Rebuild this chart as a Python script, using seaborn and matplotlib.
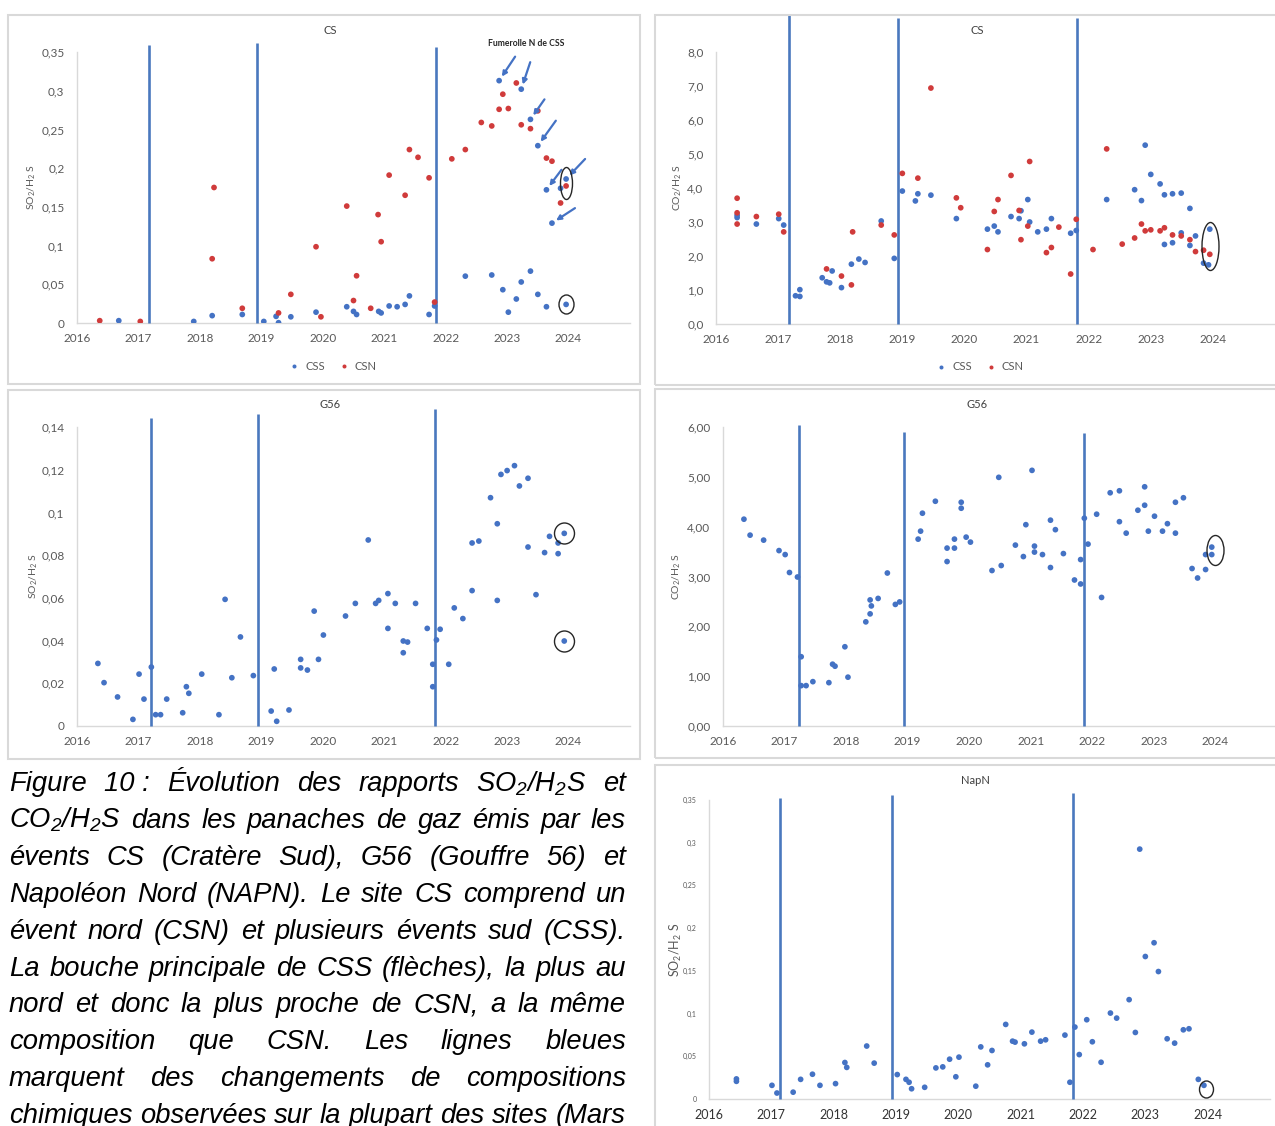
#!/usr/bin/env python3
"""
Figure 10: SO2/H2S and CO2/H2S ratios in the gas plumes of CS, G56 and NapN.

Five small Excel-style scatter panels + the justified French caption.
"""
import matplotlib

matplotlib.use("Agg")
import matplotlib.pyplot as plt
import pandas as pd
import seaborn as sns
from matplotlib import font_manager
from matplotlib.markers import MarkerStyle
from matplotlib.patches import Rectangle
from matplotlib.path import Path
from matplotlib.ticker import FixedLocator, FuncFormatter, MultipleLocator
from matplotlib.transforms import Affine2D

W, H = 1275, 1126
BLUE = "#4472C4"
RED = "#D03B3B"
LINE_BLUE = "#4A78BE"
FRAME_GREY = "#D9D9D9"
TEXT_GREY = "#595959"

YEARS = [2016, 2017, 2018, 2019, 2020, 2021, 2022, 2023, 2024]

# dates of the composition changes (blue vertical lines) and how high each was drawn
CS_SO2_CHANGE_X = [2017.17, 2018.93, 2021.84]
CS_SO2_CHANGE_TOP = [0.359, 0.362, 0.357]
CS_CO2_CHANGE_X = [2017.17, 2018.93, 2021.82]
CS_CO2_CHANGE_TOP = [9.1, 9.0, 9.0]
G56_SO2_CHANGE_X = [2017.20, 2018.94, 2021.83]
G56_SO2_CHANGE_TOP = [0.1444, 0.1462, 0.1486]
G56_CO2_CHANGE_X = [2017.23, 2018.94, 2021.87]
G56_CO2_CHANGE_TOP = [6.04, 5.89, 5.87]
NAPN_CHANGE_X = [2017.14, 2018.93, 2021.84]
NAPN_CHANGE_TOP = [0.352, 0.356, 0.358]

# CS - SO2/H2S, south vents (CSS)
CSS_SO2_YEAR = [2016.68, 2017.90, 2018.20, 2018.69, 2019.04, 2019.24, 2019.28, 2019.48,
                2019.89, 2020.39, 2020.50, 2020.55, 2020.91, 2020.95, 2021.08, 2021.21,
                2021.34, 2021.41, 2021.73, 2021.82, 2022.32, 2022.75, 2022.93, 2023.02,
                2023.15, 2023.23, 2023.38, 2023.50, 2023.64, 2023.96]
CSS_SO2 = [0.003, 0.002, 0.0095, 0.011, 0.002, 0.0086, 0.0004, 0.008,
           0.014, 0.021, 0.015, 0.011, 0.015, 0.013, 0.022, 0.021,
           0.024, 0.035, 0.011, 0.022, 0.0605, 0.062, 0.043, 0.014,
           0.031, 0.053, 0.067, 0.037, 0.021, 0.024]
# CS - SO2/H2S, main mouth of CSS (the arrowed points)
CSS_MAIN_YEAR = [2022.87, 2023.23, 2023.38, 2023.50, 2023.64, 2023.87, 2023.96, 2023.73]
CSS_MAIN_SO2 = [0.313, 0.302, 0.263, 0.229, 0.172, 0.174, 0.186, 0.129]
# CS - SO2/H2S, north vent (CSN)
CSN_SO2_YEAR = [2016.37, 2017.03, 2018.20, 2018.23, 2018.69, 2019.28, 2019.48, 2019.89,
                2019.97, 2020.39, 2020.50, 2020.55, 2020.78, 2020.90, 2020.95, 2021.08,
                2021.34, 2021.41, 2021.55, 2021.73, 2021.82, 2022.10, 2022.32, 2022.58,
                2022.75, 2022.87, 2022.93, 2023.02, 2023.15, 2023.23, 2023.38, 2023.50,
                2023.64, 2023.73, 2023.87, 2023.96]
CSN_SO2 = [0.003, 0.002, 0.083, 0.175, 0.019, 0.013, 0.037, 0.0985,
           0.008, 0.151, 0.029, 0.061, 0.019, 0.140, 0.105, 0.191,
           0.165, 0.224, 0.214, 0.1875, 0.027, 0.212, 0.224, 0.259,
           0.2545, 0.276, 0.2955, 0.277, 0.310, 0.256, 0.251, 0.274,
           0.213, 0.209, 0.155, 0.177]
# tail offsets of the arrows (px, right/up) for each main-mouth point, None = no arrow
CSS_MAIN_ARROW = [(16, 24), (9, 27), (14, 20), (18, 25), (15, 20), None, (19, 20), (23, 15)]

# CS - CO2/H2S
CSS_CO2_YEAR = [2016.34, 2016.34, 2016.65, 2017.01, 2017.09, 2017.28, 2017.35, 2017.35,
                2017.71, 2017.78, 2017.83, 2017.87, 2018.02, 2018.18, 2018.30, 2018.40,
                2018.66, 2018.87, 2019.00, 2019.21, 2019.25, 2019.46, 2019.87, 2020.37,
                2020.48, 2020.54, 2020.75, 2020.88, 2020.91, 2021.02, 2021.05, 2021.18,
                2021.32, 2021.40, 2021.71, 2021.80, 2022.29, 2022.74, 2022.85, 2022.91,
                2023.00, 2023.15, 2023.22, 2023.22, 2023.35, 2023.35, 2023.49, 2023.49,
                2023.63, 2023.63, 2023.72, 2023.85, 2023.93, 2023.95]
CSS_CO2 = [3.20, 3.13, 2.94, 3.10, 2.91, 0.83, 1.01, 0.81,
           1.36, 1.24, 1.21, 1.56, 1.07, 1.76, 1.91, 1.81,
           3.03, 1.93, 3.91, 3.62, 3.83, 3.79, 3.10, 2.79,
           2.88, 2.71, 3.16, 3.10, 3.33, 3.66, 3.00, 2.71,
           2.79, 3.10, 2.67, 2.75, 3.66, 3.95, 3.63, 5.26,
           4.40, 4.12, 3.80, 2.34, 3.83, 2.39, 3.85, 2.68,
           3.40, 2.31, 2.59, 1.79, 1.74, 2.79]
CSN_CO2_YEAR = [2016.34, 2016.34, 2016.34, 2016.65, 2017.01, 2017.09, 2017.78, 2018.02,
                2018.18, 2018.20, 2018.66, 2018.87, 2019.00, 2019.25, 2019.46, 2019.87,
                2019.94, 2020.37, 2020.48, 2020.54, 2020.75, 2020.88, 2020.91, 2021.02,
                2021.05, 2021.32, 2021.40, 2021.52, 2021.71, 2021.80, 2022.07, 2022.29,
                2022.54, 2022.74, 2022.85, 2022.91, 2023.00, 2023.15, 2023.22, 2023.35,
                2023.49, 2023.63, 2023.72, 2023.85, 2023.95]
CSN_CO2 = [3.70, 3.27, 2.94, 3.16, 3.23, 2.71, 1.62, 1.41,
           1.15, 2.71, 2.91, 2.62, 4.43, 4.29, 6.94, 3.71,
           3.42, 2.19, 3.31, 3.66, 4.37, 3.34, 2.48, 2.88,
           4.78, 2.10, 2.25, 2.85, 1.47, 3.08, 2.19, 5.15,
           2.35, 2.53, 2.94, 2.74, 2.77, 2.74, 2.83, 2.62,
           2.59, 2.48, 2.13, 2.17, 2.05]

# G56 - SO2/H2S
G56_SO2_YEAR = [2016.34, 2016.44, 2016.66, 2016.91, 2017.01, 2017.09, 2017.21, 2017.28,
                2017.36, 2017.46, 2017.72, 2017.78, 2017.82, 2018.03, 2018.31, 2018.41,
                2018.52, 2018.66, 2018.87, 2019.16, 2019.21, 2019.25, 2019.45, 2019.64,
                2019.64, 2019.75, 2019.86, 2019.93, 2020.01, 2020.37, 2020.53, 2020.74,
                2020.86, 2020.91, 2021.06, 2021.06, 2021.18, 2021.31, 2021.31, 2021.38,
                2021.51, 2021.70, 2021.79, 2021.79, 2021.85, 2021.91, 2022.05, 2022.14,
                2022.28, 2022.43, 2022.43, 2022.54, 2022.73, 2022.84, 2022.84, 2022.90,
                2023.00, 2023.12, 2023.20, 2023.34, 2023.34, 2023.47, 2023.61, 2023.69,
                2023.83, 2023.83, 2023.93, 2023.93]
G56_SO2 = [0.0293, 0.0203, 0.0136, 0.0031, 0.0243, 0.0126, 0.0276, 0.0053,
           0.0053, 0.0126, 0.0062, 0.0184, 0.0153, 0.0243, 0.0053, 0.0593,
           0.0226, 0.0417, 0.0236, 0.0070, 0.0267, 0.0022, 0.0075, 0.0312,
           0.0272, 0.0262, 0.0538, 0.0312, 0.0426, 0.0515, 0.0574, 0.0871,
           0.0574, 0.0588, 0.0620, 0.0457, 0.0574, 0.0398, 0.0343, 0.0393,
           0.0574, 0.0457, 0.0289, 0.0184, 0.0403, 0.0453, 0.0289, 0.0553,
           0.0503, 0.0857, 0.0634, 0.0866, 0.1069, 0.0947, 0.0588, 0.1178,
           0.1196, 0.1219, 0.1124, 0.1160, 0.0838, 0.0615, 0.0812, 0.0888,
           0.0857, 0.0807, 0.0902, 0.0398]

# G56 - CO2/H2S
G56_CO2_YEAR = [2016.34, 2016.44, 2016.66, 2016.91, 2017.01, 2017.08, 2017.21, 2017.27,
                2017.27, 2017.35, 2017.46, 2017.72, 2017.78, 2017.82, 2017.98, 2018.03,
                2018.32, 2018.39, 2018.41, 2018.39, 2018.52, 2018.67, 2018.80, 2018.87,
                2019.17, 2019.21, 2019.24, 2019.45, 2019.64, 2019.64, 2019.76, 2019.76,
                2019.87, 2019.87, 2019.95, 2020.02, 2020.37, 2020.48, 2020.52, 2020.75,
                2020.88, 2020.92, 2021.02, 2021.06, 2021.06, 2021.19, 2021.32, 2021.32,
                2021.40, 2021.53, 2021.71, 2021.81, 2021.81, 2021.87, 2021.93, 2022.07,
                2022.15, 2022.29, 2022.44, 2022.44, 2022.55, 2022.74, 2022.85, 2022.85,
                2022.91, 2023.01, 2023.14, 2023.22, 2023.35, 2023.35, 2023.48, 2023.62,
                2023.71, 2023.84, 2023.84, 2023.94, 2023.94]
G56_CO2 = [4.15, 3.83, 3.73, 3.52, 3.44, 3.08, 2.99, 1.39,
           0.81, 0.81, 0.89, 0.87, 1.24, 1.20, 1.59, 0.98,
           2.09, 2.25, 2.41, 2.53, 2.56, 3.07, 2.44, 2.49,
           3.75, 3.91, 4.27, 4.51, 3.57, 3.30, 3.75, 3.57,
           4.49, 4.37, 3.79, 3.69, 3.12, 4.99, 3.22, 3.63,
           3.40, 4.04, 5.13, 3.61, 3.49, 3.44, 4.13, 3.18,
           3.94, 3.46, 2.93, 3.34, 2.85, 4.17, 3.65, 4.25,
           2.58, 4.68, 4.72, 4.10, 3.87, 4.33, 4.80, 4.43,
           3.91, 4.21, 3.91, 4.06, 4.49, 3.87, 4.58, 3.16,
           2.97, 3.44, 3.14, 3.59, 3.44]

# NapN - SO2/H2S
NAPN_YEAR = [2016.44, 2016.44, 2017.01, 2017.09, 2017.35, 2017.47, 2017.66, 2017.78,
             2018.03, 2018.18, 2018.21, 2018.53, 2018.65, 2019.02, 2019.16, 2019.21,
             2019.25, 2019.46, 2019.64, 2019.75, 2019.86, 2019.96, 2020.01, 2020.28,
             2020.36, 2020.47, 2020.54, 2020.76, 2020.87, 2020.91, 2021.06, 2021.18,
             2021.32, 2021.40, 2021.71, 2021.79, 2021.87, 2021.94, 2022.06, 2022.15,
             2022.29, 2022.44, 2022.54, 2022.74, 2022.84, 2022.91, 2023.00, 2023.14,
             2023.21, 2023.35, 2023.47, 2023.61, 2023.70, 2023.85, 2023.94]
NAPN_SO2 = [0.0235, 0.0207, 0.016, 0.007, 0.008, 0.023, 0.029, 0.016,
            0.018, 0.0427, 0.037, 0.062, 0.042, 0.0286, 0.023, 0.0196,
            0.012, 0.0137, 0.0364, 0.0376, 0.0466, 0.026, 0.049, 0.015,
            0.061, 0.040, 0.0568, 0.0873, 0.0677, 0.0666, 0.0646, 0.0783,
            0.0677, 0.0693, 0.0748, 0.0196, 0.0842, 0.052, 0.0928, 0.067,
            0.043, 0.1006, 0.0947, 0.1163, 0.0779, 0.2925, 0.1668, 0.1829,
            0.1492, 0.0705, 0.0654, 0.081, 0.0822, 0.023, 0.016]

# hand-drawn rings around the latest samples: centre (year, value), size in px
CS_SO2_RINGS = [(2023.96, 0.181, 12, 32), (2023.96, 0.024, 15, 19)]
CS_CO2_RINGS = [(2023.95, 2.28, 17, 48)]
G56_SO2_RINGS = [(2023.93, 0.0905, 20, 21), (2023.93, 0.0400, 20, 21)]
G56_CO2_RINGS = [(2024.0, 3.54, 17, 30)]
NAPN_RINGS = [(2023.97, 0.012, 14, 17)]

CAPTION_LINES = [
    "Figure 10\u00a0: Évolution des rapports SO$_2$/H$_2$S et",
    "CO$_2$/H$_2$S dans les panaches de gaz émis par les",
    "évents CS (Cratère Sud), G56 (Gouffre 56) et",
    "Napoléon Nord (NAPN). Le site CS comprend un",
    "évent nord (CSN) et plusieurs évents sud (CSS).",
    "La bouche principale de CSS (flèches), la plus au",
    "nord et donc la plus proche de CSN, a la même",
    "composition que CSN. Les lignes bleues",
    "marquent des changements de compositions",
    "chimiques observées sur la plupart des sites (Mars",
]


def px_box(left, top, right, bottom):
    return [left / W, 1 - bottom / H, (right - left) / W, (bottom - top) / H]


def general_fmt(v):
    return f"{round(v, 6):g}".replace(".", ",")


def ring(ax, x, y, w, h):
    m = MarkerStyle(Path.unit_circle().transformed(Affine2D().scale(w, h)))
    ax.plot([x], [y], ls="none", marker=m, ms=max(w, h) * 0.72, mfc="none",
            mec="#262626", mew=1.0, clip_on=False, zorder=6)


def setup_axes(ax, ymax, ystep, yfmt, ylabel, label_x, xtick_fs=8.5, ytick_fs=8.5,
               label_fs=7.5, xtick_color=TEXT_GREY):
    ax.set_xlim(2016, 2025)
    ax.set_ylim(0, ymax)
    ax.xaxis.set_major_locator(FixedLocator(YEARS))
    ax.xaxis.set_major_formatter(FuncFormatter(lambda v, _: f"{v:.0f}"))
    ax.yaxis.set_major_locator(MultipleLocator(ystep))
    ax.yaxis.set_major_formatter(FuncFormatter(lambda v, _: yfmt(v)))
    for s in ("top", "right"):
        ax.spines[s].set_visible(False)
    for s in ("left", "bottom"):
        ax.spines[s].set_color(FRAME_GREY)
        ax.spines[s].set_linewidth(1.0)
    ax.tick_params(axis="x", length=3, color=FRAME_GREY, labelsize=xtick_fs,
                   labelcolor=xtick_color, pad=4)
    ax.tick_params(axis="y", length=0, labelsize=ytick_fs, labelcolor=TEXT_GREY, pad=9)
    ax.set_xlabel("")
    ax.set_ylabel(ylabel, fontsize=label_fs, color=TEXT_GREY)
    ax.yaxis.set_label_coords(label_x, 0.5)
    ax.patch.set_alpha(0)


def scatter(ax, frames, palette, legend_at=None):
    df = pd.concat(frames, ignore_index=True)
    sns.scatterplot(data=df, x="year", y="ratio", hue="site", palette=palette, s=17,
                    linewidth=0, ax=ax, legend=legend_at is not None, zorder=4)
    if legend_at is not None:
        sns.move_legend(ax, "center", bbox_to_anchor=legend_at, ncol=2, title=None,
                        frameon=False, fontsize=8, handletextpad=0.0,
                        columnspacing=0.7, markerscale=0.7)
        for t in ax.get_legend().get_texts():
            t.set_color(TEXT_GREY)


def frame(fig, left, top, right, bottom):
    fig.add_artist(Rectangle((left / W, 1 - bottom / H), (right - left) / W,
                             (bottom - top) / H, transform=fig.transFigure,
                             fill=False, ec=FRAME_GREY, lw=1.5))


def title(fig, x, y, text, **kw):
    fig.text(x / W, 1 - y / H, text, ha="center", va="center", color="#404040", **kw)


def draw_caption(fig, x0=9, x1=626, base0=791, step=36.9):
    r = fig.canvas.get_renderer()
    names = {f.name for f in font_manager.fontManager.ttflist}
    family = "Liberation Sans Narrow" if "Liberation Sans Narrow" in names else "Liberation Sans"
    kw = dict(family=family, style="italic", color="black", va="baseline", ha="left")
    size = 20.0
    widest = 0
    for line in CAPTION_LINES:
        t = fig.text(0, 0, line, fontsize=size, **kw)
        widest = max(widest, t.get_window_extent(r).width)
        t.remove()
    if widest > x1 - x0:
        size *= (x1 - x0) / widest * 0.995
    for i, line in enumerate(CAPTION_LINES):
        words = line.split(" ")
        texts = [fig.text(0, 0, w, fontsize=size, **kw) for w in words]
        widths = [t.get_window_extent(r).width for t in texts]
        gap = (x1 - x0 - sum(widths)) / max(len(words) - 1, 1)
        x = x0
        y = 1 - (base0 + i * step) / H
        for t, w in zip(texts, widths):
            t.set_position((x / W, y))
            x += w + gap


def main() -> None:
    sns.set_theme(style="white")
    plt.rcParams["font.family"] = ["Lato", "DejaVu Sans"]
    plt.rcParams["mathtext.default"] = "regular"

    fig = plt.figure(figsize=(W / 100, H / 100), dpi=100)
    fig.patch.set_facecolor("white")

    for box in [(8, 15, 640, 384), (655, 15, 1290, 385), (8, 390, 640, 759),
                (655, 389, 1290, 758), (655, 765, 1290, 1140)]:
        frame(fig, *box)

    pal = {"CSS": BLUE, "CSN": RED}
    so2 = "SO$_2$/H$_2$ S"
    co2 = "CO$_2$/H$_2$ S"

    # --- CS, SO2/H2S ---
    ax = fig.add_axes(px_box(77, 52, 630, 323))
    ax.vlines(CS_SO2_CHANGE_X, 0, CS_SO2_CHANGE_TOP, color=LINE_BLUE, lw=1.9,
              clip_on=False, zorder=3)
    scatter(ax, [
        pd.DataFrame({"year": CSS_SO2_YEAR, "ratio": CSS_SO2, "site": "CSS"}),
        pd.DataFrame({"year": CSS_MAIN_YEAR, "ratio": CSS_MAIN_SO2, "site": "CSS"}),
        pd.DataFrame({"year": CSN_SO2_YEAR, "ratio": CSN_SO2, "site": "CSN"}),
    ], pal, legend_at=(0.4575, -0.159))
    for xv, yv, off in zip(CSS_MAIN_YEAR, CSS_MAIN_SO2, CSS_MAIN_ARROW):
        if off is None:
            continue
        ax.annotate("", xy=(xv, yv), xytext=(off[0] * 0.72, off[1] * 0.72),
                    textcoords="offset points", zorder=5,
                    arrowprops=dict(arrowstyle="-|>", color=BLUE, lw=1.6,
                                    mutation_scale=7, shrinkA=0, shrinkB=3.5))
    for rg in CS_SO2_RINGS:
        ring(ax, *rg)
    setup_axes(ax, 0.35, 0.05, general_fmt, so2, -0.0705)
    title(fig, 330, 30, "CS", fontsize=8)
    fig.text(526 / W, 1 - 43 / H, "Fumerolle N de CSS", ha="center", va="center",
             fontsize=6.2, fontweight="bold", color="#262626")

    # --- CS, CO2/H2S ---
    ax = fig.add_axes(px_box(716, 52, 1275, 324))
    ax.vlines(CS_CO2_CHANGE_X, 0, CS_CO2_CHANGE_TOP, color=LINE_BLUE, lw=1.9,
              clip_on=False, zorder=3)
    scatter(ax, [
        pd.DataFrame({"year": CSS_CO2_YEAR, "ratio": CSS_CO2, "site": "CSS"}),
        pd.DataFrame({"year": CSN_CO2_YEAR, "ratio": CSN_CO2, "site": "CSN"}),
    ], pal, legend_at=(0.467, -0.158))
    for rg in CS_CO2_RINGS:
        ring(ax, *rg)
    setup_axes(ax, 8.0, 1.0, lambda v: f"{v:.1f}".replace(".", ","), co2, -0.057)
    title(fig, 977, 30, "CS", fontsize=8)

    # --- G56, SO2/H2S ---
    ax = fig.add_axes(px_box(77, 427, 630, 726))
    ax.vlines(G56_SO2_CHANGE_X, 0, G56_SO2_CHANGE_TOP, color=LINE_BLUE, lw=1.9,
              clip_on=False, zorder=3)
    scatter(ax, [pd.DataFrame({"year": G56_SO2_YEAR, "ratio": G56_SO2, "site": "G56"})],
            {"G56": BLUE})
    for rg in G56_SO2_RINGS:
        ring(ax, *rg)
    setup_axes(ax, 0.14, 0.02, general_fmt, so2, -0.067)
    title(fig, 330, 405, "G56", fontsize=8)

    # --- G56, CO2/H2S ---
    ax = fig.add_axes(px_box(723, 427, 1277, 726))
    ax.vlines(G56_CO2_CHANGE_X, 0, G56_CO2_CHANGE_TOP, color=LINE_BLUE, lw=1.9,
              clip_on=False, zorder=3)
    scatter(ax, [pd.DataFrame({"year": G56_CO2_YEAR, "ratio": G56_CO2, "site": "G56"})],
            {"G56": BLUE})
    for rg in G56_CO2_RINGS:
        ring(ax, *rg)
    setup_axes(ax, 6.0, 1.0, lambda v: f"{v:.2f}".replace(".", ","), co2, -0.073)
    title(fig, 977, 405, "G56", fontsize=8)

    # --- NapN, SO2/H2S ---
    ax = fig.add_axes(px_box(709, 800, 1270, 1099))
    ax.vlines(NAPN_CHANGE_X, 0, NAPN_CHANGE_TOP, color=LINE_BLUE, lw=1.9,
              clip_on=False, zorder=3)
    scatter(ax, [pd.DataFrame({"year": NAPN_YEAR, "ratio": NAPN_SO2, "site": "NapN"})],
            {"NapN": BLUE})
    for rg in NAPN_RINGS:
        ring(ax, *rg)
    setup_axes(ax, 0.35, 0.05, general_fmt, so2, -0.044, xtick_fs=9, ytick_fs=5,
               label_fs=9, xtick_color="#333333")
    title(fig, 975, 780, "NapN", fontsize=8)

    draw_caption(fig)

    fig.savefig("out.png", dpi=100, facecolor="white")
    plt.close(fig)


if __name__ == "__main__":
    main()
